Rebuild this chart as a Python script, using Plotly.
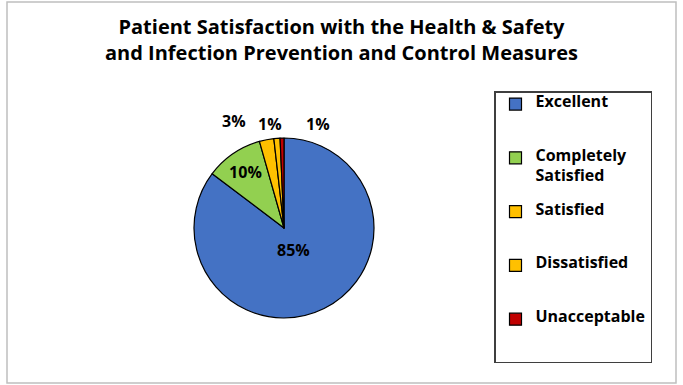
import plotly.graph_objects as go

# ---- data ----
categories = ["Excellent", "Completely Satisfied", "Satisfied", "Dissatisfied", "Unacceptable"]
legend_wrapped = ["Excellent", "Completely<br>Satisfied", "Satisfied", "Dissatisfied", "Unacceptable"]
values = [85.3, 10.3, 2.6, 1.1, 0.7]
colors = ["#4472C4", "#92D050", "#FFC000", "#FFC000", "#C00000"]
title_text = "Patient Satisfaction with the Health & Safety<br>and Infection Prevention and Control Measures"

W, H = 683, 385
FONT = "Open Sans"
LEG_FONT = 7.81  # small base font -> fine control of legend line spacing
VIS = 16         # visible legend text size

total = sum(values)
pct_labels = [f"{round(v / total * 100)}%" for v in values]

# legend labels: visible lines on every other line, padded with blank lines
legend_text = []
for i, lab in enumerate(legend_wrapped):
    parts = lab.split("<br>")
    lines = []
    for j, p in enumerate(parts):
        if j > 0:
            lines.append(" ")
        lines.append(f"<b><span style='font-size:{VIS}px'>{p}</span></b>")
    n = 4 if i == len(legend_wrapped) - 1 else 5
    while len(lines) < n:
        lines.append(" ")
    legend_text.append("<br>".join(lines))

inside = [False, True, False, False, False]

cx, cy, r = 284, 228, 90
fig = go.Figure(go.Pie(
    labels=legend_text,
    values=values,
    sort=False,
    direction="clockwise",
    rotation=0,
    marker=dict(colors=colors, line=dict(color="black", width=1.2)),
    texttemplate=[f"<b>{p}</b>" if ins else "" for p, ins in zip(pct_labels, inside)],
    textposition=["inside" if ins else "none" for ins in inside],
    insidetextorientation="horizontal",
    textfont=dict(family=FONT, size=16, color="black"),
    domain=dict(x=[(cx - r) / W, (cx + r) / W], y=[(H - cy - r) / H, (H - cy + r) / H]),
    hoverinfo="label+percent",
))

# data labels placed as in the reference
label_pos = {0: (293, 250), 2: (234, 121), 3: (270, 124.5), 4: (318, 124.5)}
annotations = []
for i, (px, py) in label_pos.items():
    annotations.append(dict(
        x=px / W, y=1 - py / H, xref="paper", yref="paper",
        text=f"<b>{pct_labels[i]}</b>", showarrow=False,
        font=dict(family=FONT, size=16, color="black"),
        xanchor="center", yanchor="middle",
    ))

fig.update_layout(
    width=W, height=H,
    margin=dict(l=0, r=0, t=0, b=0),
    paper_bgcolor="white", plot_bgcolor="white",
    title=dict(
        text=f"<b>{title_text}</b>",
        x=0.5, xanchor="center", xref="paper",
        y=1 - 34 / H, yanchor="top", yref="container",
        font=dict(family=FONT, size=20, color="black"),
    ),
    showlegend=True,
    legend=dict(
        x=494 / W, xanchor="left", y=1 - 91 / H, yanchor="top",
        bordercolor="#3F3F3F", borderwidth=1.5, bgcolor="white",
        font=dict(family=FONT, size=LEG_FONT, color="black"),
        valign="top", itemclick=False,
    ),
    annotations=annotations,
    shapes=[dict(type="rect", xref="paper", yref="paper",
                 x0=7 / W, x1=676 / W, y0=1 - 383 / H, y1=1 - 2 / H,
                 line=dict(color="#BFBFBF", width=1.5), fillcolor="rgba(0,0,0,0)", layer="below")],
)

fig.write_html("out.html")
